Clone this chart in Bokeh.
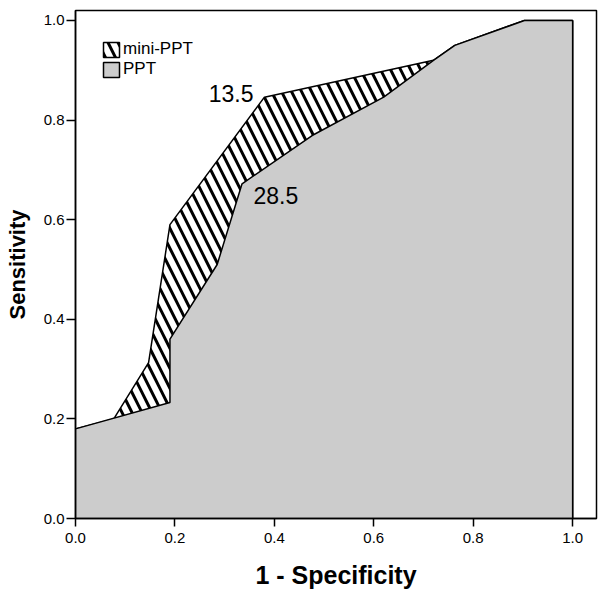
from bokeh.plotting import figure
from bokeh.models import Range1d, FixedTicker, NumeralTickFormatter, Label, Legend, LegendItem
from bokeh.embed import file_html
from bokeh.resources import INLINE

# ROC curve data (1 - Specificity, Sensitivity)
mini_ppt_x = [0.0, 0.077, 0.147, 0.19, 0.38, 0.72, 0.763, 0.903, 1.0]
mini_ppt_y = [0.18, 0.20, 0.313, 0.59, 0.846, 0.92, 0.95, 1.0, 1.0]

ppt_x = [0.0, 0.19, 0.19, 0.285, 0.335, 0.476, 0.62, 0.72, 0.763, 0.903, 1.0]
ppt_y = [0.18, 0.233, 0.36, 0.51, 0.672, 0.769, 0.846, 0.92, 0.95, 1.0, 1.0]

tick_values = [0.0, 0.2, 0.4, 0.6, 0.8, 1.0]

cutoff_labels = ["13.5", "28.5"]
cutoff_label_x = [0.358, 0.358]
cutoff_label_y = [0.853, 0.649]
cutoff_label_align = ["right", "left"]

FONT = "Liberation Sans"

p = figure(frame_width=521, frame_height=508,
           min_border_left=75, min_border_top=10, min_border_right=2, min_border_bottom=78,
           x_range=Range1d(0, 1.048), y_range=Range1d(0, 1.02),
           output_backend="svg", toolbar_location=None,
           background_fill_color="white", border_fill_color="white")

p.grid.visible = False
p.outline_line_color = "black"
p.outline_line_width = 1.5

def closed(xs, ys):
    return xs + [xs[-1], xs[0]], ys + [0.0, 0.0]

mx, my = closed(mini_ppt_x, mini_ppt_y)
r_mini = p.patch(mx, my, fill_color="white", line_color="black", line_width=1.5,
                 hatch_pattern="\\", hatch_color="black", hatch_scale=20, hatch_weight=3)

px, py = closed(ppt_x, ppt_y)
r_ppt = p.patch(px, py, fill_color="#cccccc", line_color="black", line_width=1.5)

legend_common = dict(margin=0, padding=0, spacing=0,
                     glyph_width=20, glyph_height=19, label_height=19, label_standoff=2,
                     label_text_font=FONT, label_text_font_size="17px", label_text_color="black",
                     border_line_color=None, background_fill_alpha=0)
legend1 = Legend(items=[LegendItem(label="mini-PPT", renderers=[r_mini])],
                 location=(26, 459), **legend_common)
legend2 = Legend(items=[LegendItem(label="PPT", renderers=[r_ppt])],
                 location=(26, 439), **legend_common)
p.add_layout(legend1, "center")
p.add_layout(legend2, "center")

for txt, lx, ly, al in zip(cutoff_labels, cutoff_label_x, cutoff_label_y, cutoff_label_align):
    p.add_layout(Label(x=lx, y=ly, text=txt, text_align=al, text_baseline="middle",
                       text_font=FONT, text_font_size="23px", text_color="black"))

for ax in (p.xaxis[0], p.yaxis[0]):
    ax.ticker = FixedTicker(ticks=tick_values)
    ax.formatter = NumeralTickFormatter(format="0.0")
    ax.minor_tick_line_color = None
    ax.axis_line_color = "black"
    ax.axis_line_width = 1.5
    ax.major_tick_line_color = "black"
    ax.major_tick_line_width = 1.5
    ax.major_tick_in = 0
    ax.major_label_text_font = FONT
    ax.major_label_text_font_size = "15px"
    ax.major_label_text_color = "black"
    ax.axis_label_text_font = FONT
    ax.axis_label_text_font_style = "bold"
    ax.axis_label_text_color = "black"

p.xaxis.axis_label = "1 - Specificity"
p.yaxis.axis_label = "Sensitivity"
p.xaxis.axis_label_text_font_size = "25px"
p.yaxis.axis_label_text_font_size = "22px"
p.xaxis.major_tick_out = 8
p.xaxis.major_label_standoff = 6
p.xaxis.axis_label_standoff = 15
p.yaxis.major_tick_out = 9
p.yaxis.major_label_standoff = 2
p.yaxis.axis_label_standoff = 11

open("out.html", "w").write(file_html(p, INLINE))
